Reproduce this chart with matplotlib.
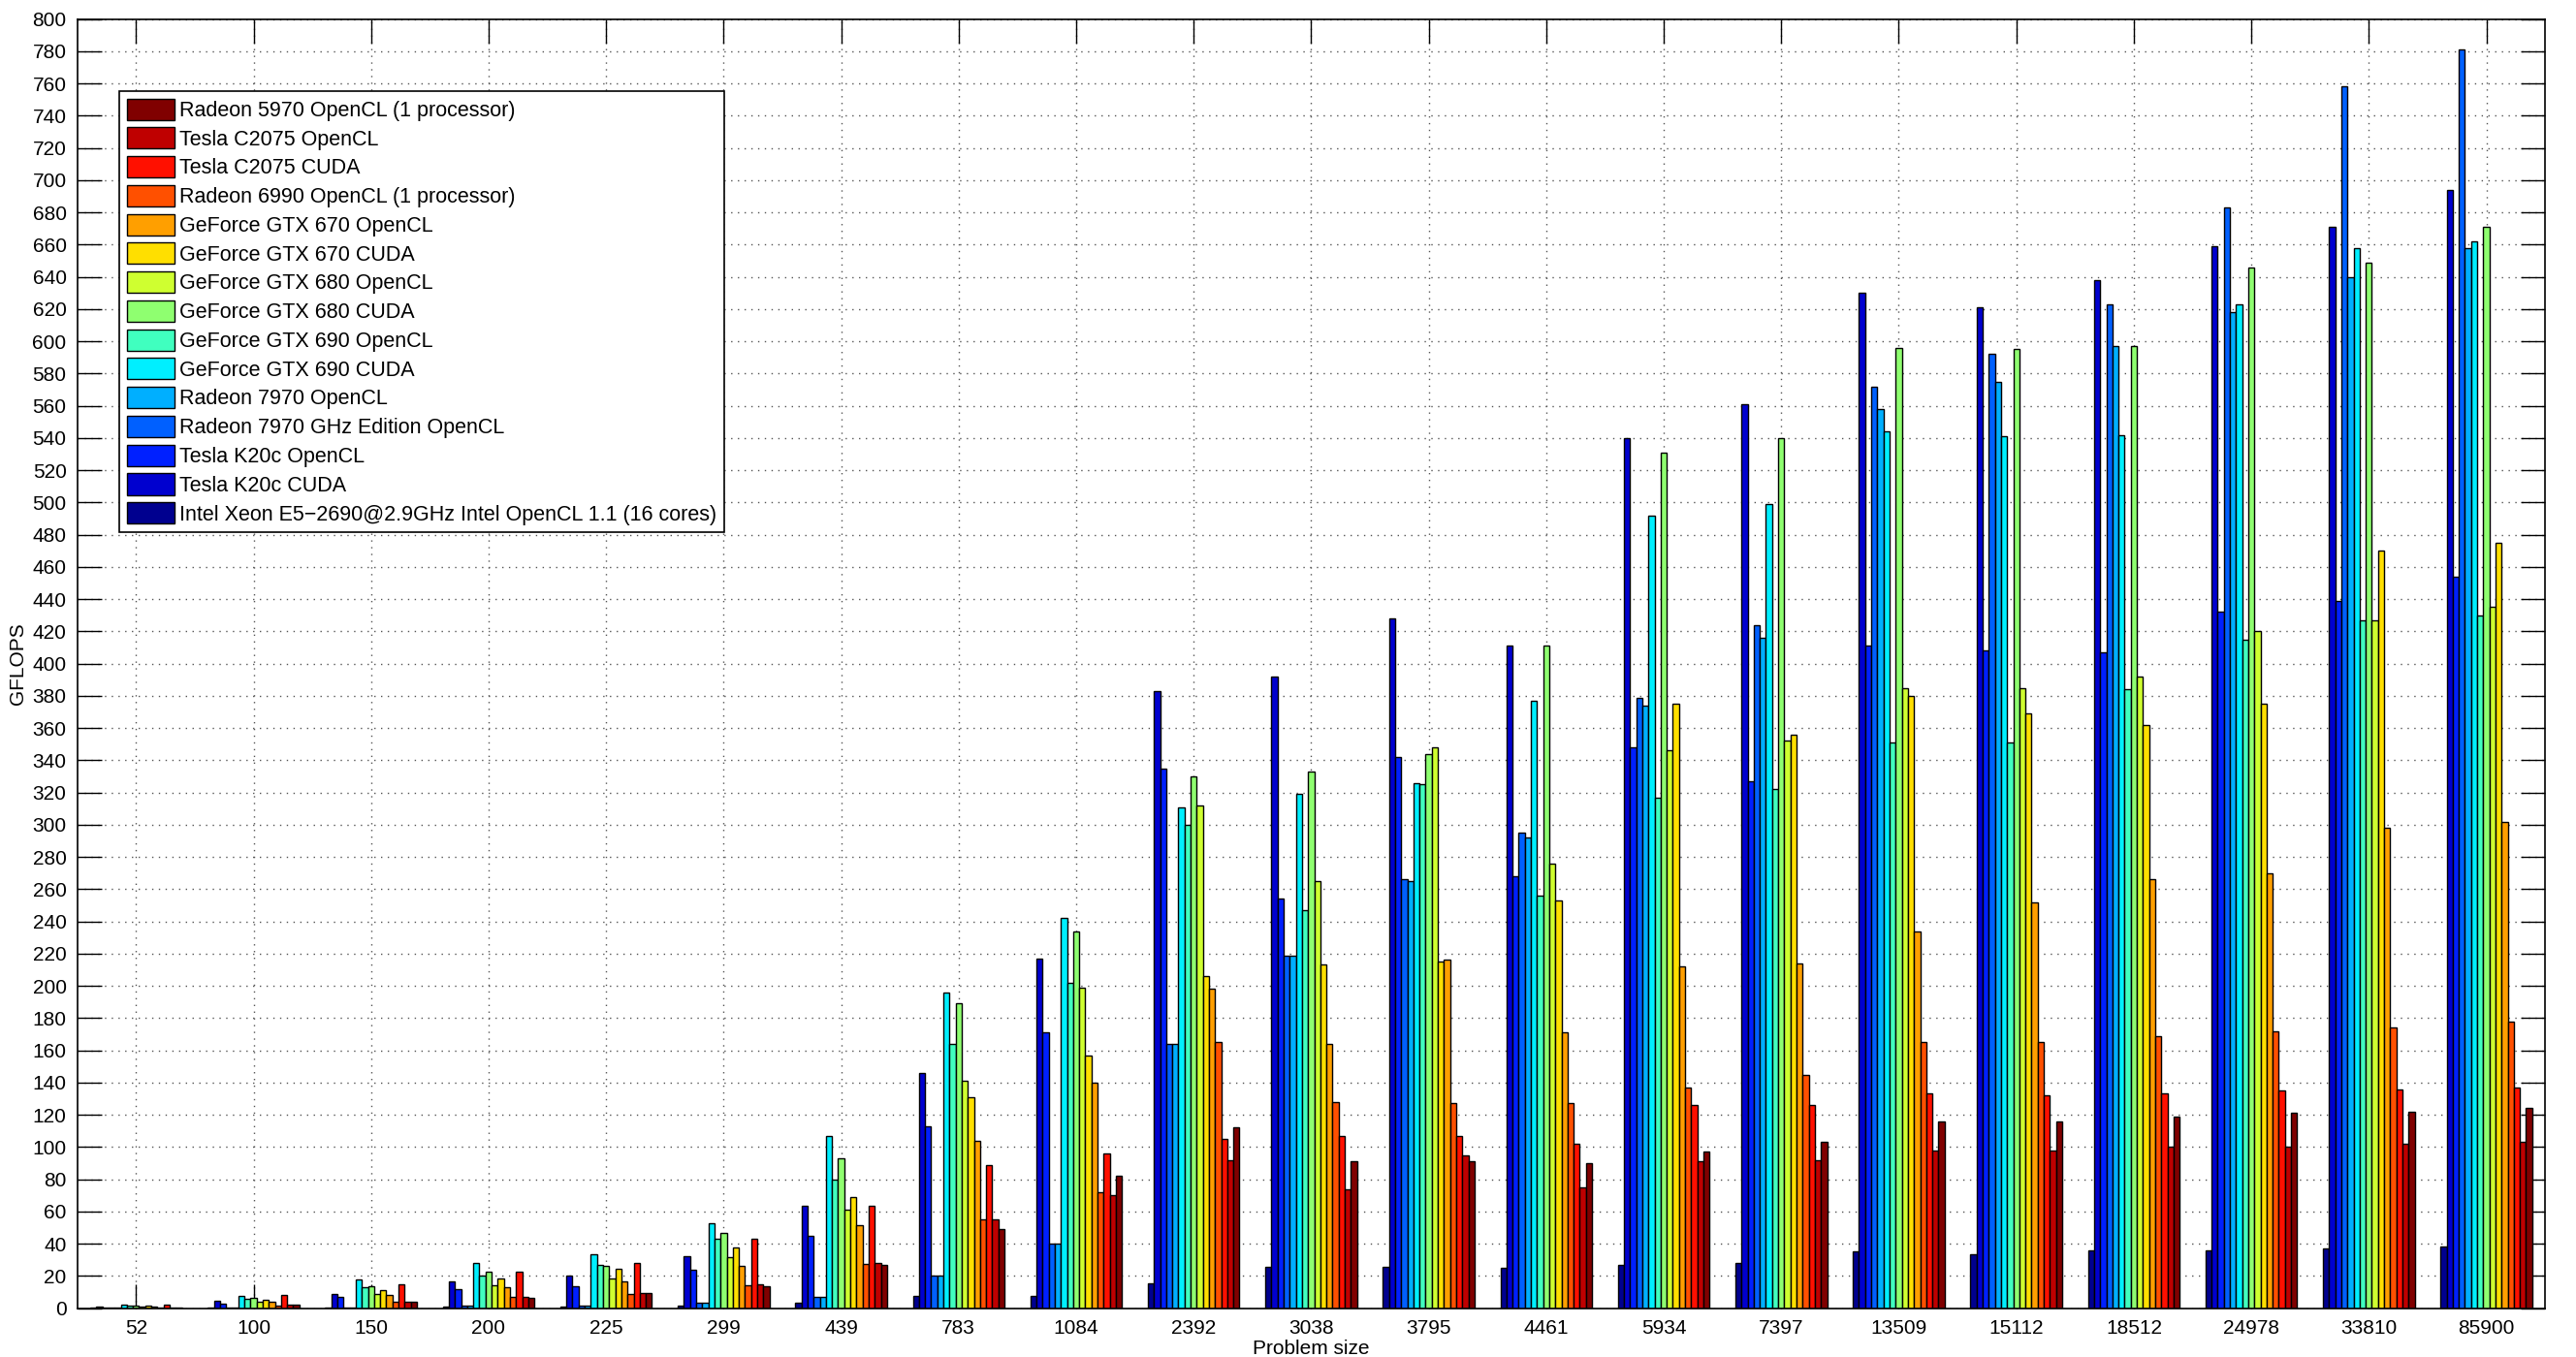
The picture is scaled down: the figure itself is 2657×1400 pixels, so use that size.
import numpy as np
import matplotlib
matplotlib.use('Agg')
import matplotlib.pyplot as plt

plt.rcParams['font.family'] = ['Liberation Sans', 'DejaVu Sans']

sizes = ['52', '100', '150', '200', '225', '299', '439', '783', '1084', '2392', '3038',
         '3795', '4461', '5934', '7397', '13509', '15112', '18512', '24978', '33810', '85900']

# series in the order the bars are drawn inside each group (left to right)
intel_xeon = [0.2, 0.1, 0.3, 0.8, 1.0, 1.4, 3.2, 7.3, 7.3, 15.3, 25.4, 25.4, 24.8, 26.6, 27.8, 35, 33.3, 35.9, 36, 37, 38]
k20c_cuda = [0.8, 4.4, 9, 16.5, 20.2, 32.4, 63.8, 146, 217, 383, 392, 428, 411, 540, 561, 630, 621, 638, 659, 671, 694]
k20c_ocl = [0.5, 2.8, 6.8, 11.5, 13.6, 24, 44.8, 113, 171, 335, 254, 342, 268, 348, 327, 411, 408, 407, 432, 439, 454]
r7970ghz = [0.1, 0.2, 0.6, 1.5, 1.8, 3.2, 6.8, 20, 40, 164, 219, 266, 295, 379, 424, 572, 592, 623, 683, 758, 781]
r7970 = [0.1, 0.2, 0.6, 1.5, 1.8, 3.2, 6.8, 20, 40, 164, 219, 265, 292, 374, 416, 558, 575, 597, 618, 640, 658]
gtx690_cuda = [2.3, 7.8, 17.8, 28.2, 33.2, 52.8, 107, 196, 242, 311, 319, 326, 377, 492, 499, 544, 541, 542, 623, 658, 662]
gtx690_ocl = [1.5, 6, 13.2, 20, 27, 42.8, 80, 164, 202, 300, 247, 325, 256, 317, 322, 351, 351, 384, 415, 427, 430]
gtx680_cuda = [1.7, 6.6, 13.6, 22.6, 26.4, 46.6, 93, 189, 234, 330, 333, 344, 411, 531, 540, 596, 595, 597, 646, 649, 671]
gtx680_ocl = [0.8, 3.8, 9, 14, 18.4, 31.6, 61.4, 141, 199, 312, 265, 348, 276, 346, 352, 385, 385, 392, 420, 427, 435]
gtx670_cuda = [1.5, 5.2, 11.4, 18.2, 24.2, 37.6, 69, 131, 157, 206, 213, 215, 253, 375, 356, 380, 369, 362, 375, 470, 475]
gtx670_ocl = [1.0, 3.8, 8, 12.8, 16.8, 26, 51.4, 104, 140, 198, 164, 216, 171, 212, 214, 234, 252, 266, 270, 298, 302]
r6990 = [0.5, 1.8, 4, 7, 9, 14, 27.4, 55, 72, 165, 128, 127, 127, 137, 145, 165, 165, 169, 172, 174, 178]
c2075_cuda = [2.2, 8.2, 14.5, 22.6, 27.8, 42.8, 63.8, 89, 96, 105, 107, 107, 102, 126, 126, 133, 132, 133, 135, 136, 137]
c2075_ocl = [0.3, 2, 4.2, 7.2, 9.2, 15, 28.2, 55, 70, 92, 74, 95, 75, 91, 92, 98, 98, 100, 100, 102, 103]
r5970 = [0.3, 2, 4.2, 6.6, 9.6, 13.8, 26.6, 49, 82, 112, 91, 91, 90, 97, 103, 116, 116, 119, 121, 122, 124]

series = [intel_xeon, k20c_cuda, k20c_ocl, r7970ghz, r7970, gtx690_cuda, gtx690_ocl,
          gtx680_cuda, gtx680_ocl, gtx670_cuda, gtx670_ocl, r6990, c2075_cuda, c2075_ocl, r5970]
labels = ['Intel Xeon E5\u22122690@2.9GHz Intel OpenCL 1.1 (16 cores)',
          'Tesla K20c CUDA', 'Tesla K20c OpenCL', 'Radeon 7970 GHz Edition OpenCL',
          'Radeon 7970 OpenCL', 'GeForce GTX 690 CUDA', 'GeForce GTX 690 OpenCL',
          'GeForce GTX 680 CUDA', 'GeForce GTX 680 OpenCL', 'GeForce GTX 670 CUDA',
          'GeForce GTX 670 OpenCL', 'Radeon 6990 OpenCL (1 processor)', 'Tesla C2075 CUDA',
          'Tesla C2075 OpenCL', 'Radeon 5970 OpenCL (1 processor)']


def matlab_jet(m=64):
    # same construction as MATLAB's jet.m
    n = int(np.ceil(m / 4))
    u = np.concatenate([np.arange(1, n + 1) / n, np.ones(n - 1), np.arange(n, 0, -1) / n])
    g = int(np.ceil(n / 2)) - (1 if m % 4 == 1 else 0) + np.arange(1, len(u) + 1)
    r = g + n
    b = g - n
    cmap = np.zeros((m, 3))
    for idx, ch in ((r, 0), (g, 1), (b, 2)):
        ok = (idx >= 1) & (idx <= m)
        cmap[idx[ok] - 1, ch] = u[ok]
    return cmap


jet64 = matlab_jet(64)
nser = len(series)
cidx = [min(63, int(np.floor(i / (nser - 1) * 64))) for i in range(nser)]
colors = [jet64[k] for k in cidx]

fig = plt.figure(figsize=(26.57, 14), dpi=100)
ax = fig.add_axes([0.030, 0.036, 0.958, 0.950])
ax.set_axisbelow(True)

x = np.arange(1, len(sizes) + 1)
group_w = 0.78
w = group_w / nser
handles = []
for i, vals in enumerate(series):
    pos = x - group_w / 2 + w * (i + 0.5)
    h = ax.bar(pos, vals, width=w, color=colors[i], edgecolor='black', linewidth=1.0)
    handles.append(h)

ax.set_xlim(0.5, len(sizes) + 0.5)
ax.set_ylim(0, 800)
ax.set_xticks(x)
ax.set_xticklabels(sizes)
ax.set_yticks(np.arange(0, 801, 20))
ax.tick_params(direction='in', length=18, width=1.0, top=True, right=True, labelsize=15, pad=8)
ax.grid(True, linestyle=(0, (1, 4)), color='#555555', linewidth=1.0)
for s in ax.spines.values():
    s.set_linewidth(1.2)

ax.set_xlabel('Problem size', fontsize=15, labelpad=2)
ax.set_ylabel('GFLOPS', fontsize=15, labelpad=4)

leg = ax.legend(handles[::-1], labels[::-1], loc='upper left', bbox_to_anchor=(0.017, 0.944),
                borderaxespad=0, fontsize=15.5, handlelength=2.3, handleheight=1.2,
                labelspacing=0.3, handletextpad=0.25, borderpad=0.35, fancybox=False,
                framealpha=1, edgecolor='black')
leg.get_frame().set_linewidth(1.2)

fig.savefig('out.png', dpi=100)
